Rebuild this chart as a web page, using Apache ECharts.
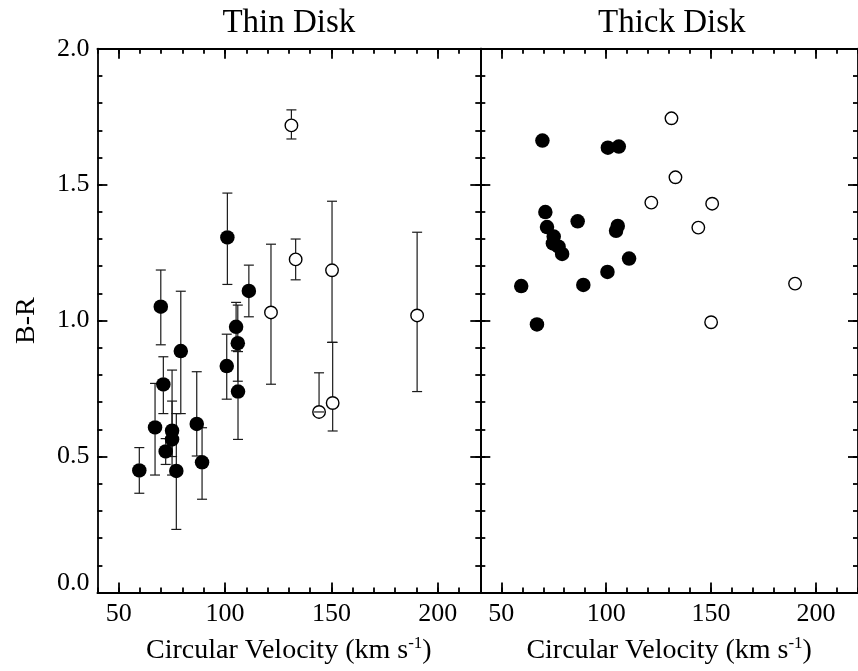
<!DOCTYPE html>
<html>
<head>
<meta charset="utf-8">
<script src="https://cdn.jsdelivr.net/npm/echarts@6/dist/echarts.min.js"></script>
<style>
html,body{margin:0;padding:0;background:#fff;}
#chart{width:858px;height:671px;}
</style>
</head>
<body>
<div id="chart"></div>
<script>
// ---------- data ----------
const panelTitles = ['Thin Disk', 'Thick Disk'];
const xTickLabels = [50, 100, 150, 200];
const yTickLabels = [0.0, 0.5, 1.0, 1.5, 2.0];

// Thin disk, filled points with error bars
const thinFilledV  = [59.7, 67.1, 69.8, 71.0, 72.1, 75.1, 75.1, 77.1, 79.2, 86.7, 89.2, 100.8, 101.1, 105.2, 106.0, 106.1, 111.2];
const thinFilledBR = [0.449, 0.607, 1.051, 0.765, 0.519, 0.595, 0.563, 0.447, 0.888, 0.620, 0.479, 0.833, 1.306, 0.977, 0.917, 0.739, 1.109];
const thinFilledLo = [0.365, 0.432, 0.911, 0.658, 0.471, 0.432, 0.500, 0.232, 0.658, 0.502, 0.343, 0.711, 1.133, 0.889, 0.777, 0.563, 1.014];
const thinFilledHi = [0.533, 0.769, 1.186, 0.867, 0.566, 0.818, 0.704, 0.658, 1.108, 0.812, 0.606, 0.950, 1.469, 1.067, 1.057, 0.886, 1.204];

// Thin disk, open points with error bars
const thinOpenV  = [121.6, 131.2, 133.2, 144.2, 150.3, 150.6, 190.3];
const thinOpenBR = [1.030, 1.718, 1.225, 0.664, 1.185, 0.697, 1.019];
const thinOpenLo = [0.766, 1.668, 1.150, 0.664, 0.920, 0.594, 0.739];
const thinOpenHi = [1.281, 1.775, 1.300, 0.808, 1.439, 0.920, 1.325];

// Thick disk, filled points
const thickFilledV  = [69.6, 100.8, 106.0, 71.0, 86.4, 71.8, 75.0, 74.6, 77.3, 79.0, 105.5, 104.7, 110.9, 100.6, 59.5, 89.1, 67.0];
const thickFilledBR = [1.662, 1.636, 1.640, 1.399, 1.365, 1.344, 1.309, 1.284, 1.272, 1.245, 1.348, 1.330, 1.228, 1.179, 1.127, 1.131, 0.986];

// Thick disk, open points
const thickOpenV  = [131.1, 133.0, 121.5, 150.5, 143.9, 190.0, 150.0];
const thickOpenBR = [1.744, 1.527, 1.434, 1.430, 1.342, 1.136, 0.994];

// ---------- layout ----------
const FONT = '"Liberation Serif","Times New Roman",serif';
const XMIN = 40, XMAX = 220, YMIN = 0, YMAX = 2;
const GTOP = 48.7, GH = 543.8, GW = 382.9;
const gridLefts = [97.4, 480.3];
const LW = 1.8;

const grids = gridLefts.map(l => ({left: l, top: GTOP, width: GW, height: GH}));

const xAxes = [], yAxes = [];
gridLefts.forEach((l, g) => {
  ['bottom', 'top'].forEach(pos => {
    xAxes.push({
      gridIndex: g, type: 'value', position: pos, min: XMIN, max: XMAX, interval: 10,
      axisLine: {show: true, onZero: false, lineStyle: {color: '#000', width: LW}},
      axisTick: {show: true, inside: true, length: 5, lineStyle: {color: '#000', width: LW}},
      axisLabel: {show: false}, splitLine: {show: false}
    });
    const major = {
      gridIndex: g, type: 'value', position: pos, min: XMIN, max: XMAX,
      axisLine: {show: false, onZero: false},
      axisTick: {show: true, inside: true, length: 10, customValues: xTickLabels, lineStyle: {color: '#000', width: LW}},
      axisLabel: {show: pos === 'bottom', customValues: xTickLabels, margin: 9,
                  fontFamily: FONT, fontSize: 26, color: '#000'},
      splitLine: {show: false}
    };
    if (pos === 'bottom') {
      major.name = '{n|Circular Velocity (km s}{s|-1}{n|)}';
      major.nameLocation = 'middle';
      major.nameGap = 43;
      major.nameTextStyle = {rich: {
        n: {fontFamily: FONT, fontSize: 28, color: '#000'},
        s: {fontFamily: FONT, fontSize: 17, color: '#000', verticalAlign: 'top', padding: [0, 0, 14, 0]}
      }};
    }
    xAxes.push(major);
  });
  ['left', 'right'].forEach(pos => {
    yAxes.push({
      gridIndex: g, type: 'value', position: pos, min: YMIN, max: YMAX, interval: 0.1,
      axisLine: {show: true, onZero: false, lineStyle: {color: '#000', width: LW}},
      axisTick: {show: true, inside: true, length: 5, lineStyle: {color: '#000', width: LW}},
      axisLabel: {show: false}, splitLine: {show: false}
    });
    const major = {
      gridIndex: g, type: 'value', position: pos, min: YMIN, max: YMAX, interval: 0.5,
      axisLine: {show: false, onZero: false},
      axisTick: {show: true, inside: true, length: 10, lineStyle: {color: '#000', width: LW}},
      axisLabel: {show: g === 0 && pos === 'left', margin: 8,
                  fontFamily: FONT, fontSize: 26, color: '#000',
                  formatter: v => v === 0 ? '{lo|0.0}' : v.toFixed(1),
                  rich: {lo: {fontFamily: FONT, fontSize: 26, color: '#000', padding: [0, 0, 18, 0]}}},
      splitLine: {show: false}
    };
    if (g === 0 && pos === 'left') {
      major.name = 'B-R';
      major.nameLocation = 'middle';
      major.nameGap = 57;
      major.nameTextStyle = {fontFamily: FONT, fontSize: 28, color: '#000'};
    }
    yAxes.push(major);
  });
});
// axis indices: grid g -> x bottom-minor 4g, y left-minor 4g

function errRender(radius) {
  return function (params, api) {
    const c = api.coord([api.value(0), api.value(1)]);
    const lo = api.coord([api.value(0), api.value(2)]);
    const hi = api.coord([api.value(0), api.value(3)]);
    const cx = c[0], cy = c[1], cw = 5;
    const st = {stroke: '#1a1a1a', lineWidth: 1.2};
    const ch = [];
    const seg = (x1, y1, x2, y2) => ch.push({type: 'line', shape: {x1, y1, x2, y2}, style: st});
    if (radius > 0) {
      if (hi[1] < cy - radius) seg(cx, hi[1], cx, cy - radius);
      if (lo[1] > cy + radius) seg(cx, cy + radius, cx, lo[1]);
    } else {
      seg(cx, hi[1], cx, lo[1]);
    }
    seg(cx - cw, hi[1], cx + cw, hi[1]);
    seg(cx - cw, lo[1], cx + cw, lo[1]);
    return {type: 'group', children: ch};
  };
}

const zip2 = (a, b) => a.map((v, i) => [v, b[i]]);
const zip4 = (a, b, c, d) => a.map((v, i) => [v, b[i], c[i], d[i]]);

const filledStyle = {color: '#000', opacity: 1};
const openStyle = {color: 'rgba(0,0,0,0)', borderColor: '#000', borderWidth: 1.4, opacity: 1};

const series = [
  {type: 'custom', xAxisIndex: 0, yAxisIndex: 0, renderItem: errRender(7),
   data: zip4(thinFilledV, thinFilledBR, thinFilledLo, thinFilledHi), z: 1, silent: true},
  {type: 'custom', xAxisIndex: 0, yAxisIndex: 0, renderItem: errRender(6.5),
   data: zip4(thinOpenV, thinOpenBR, thinOpenLo, thinOpenHi), z: 1, silent: true},
  {type: 'scatter', xAxisIndex: 0, yAxisIndex: 0, symbol: 'circle', symbolSize: 14.5,
   data: zip2(thinFilledV, thinFilledBR), itemStyle: filledStyle, z: 3, silent: true},
  {type: 'scatter', xAxisIndex: 0, yAxisIndex: 0, symbol: 'circle', symbolSize: 12.5,
   data: zip2(thinOpenV, thinOpenBR), itemStyle: openStyle, z: 3, silent: true},
  {type: 'scatter', xAxisIndex: 4, yAxisIndex: 4, symbol: 'circle', symbolSize: 14.5,
   data: zip2(thickFilledV, thickFilledBR), itemStyle: filledStyle, z: 3, silent: true},
  {type: 'scatter', xAxisIndex: 4, yAxisIndex: 4, symbol: 'circle', symbolSize: 12.5,
   data: zip2(thickOpenV, thickOpenBR), itemStyle: openStyle, z: 3, silent: true}
];

const chart = echarts.init(document.getElementById('chart'), null, {renderer: 'canvas'});
chart.setOption({
  animation: false,
  backgroundColor: '#fff',
  grid: grids,
  xAxis: xAxes,
  yAxis: yAxes,
  graphic: panelTitles.map((t, i) => ({
    type: 'text', x: gridLefts[i] + GW / 2, y: 23,
    style: {text: t, fontFamily: FONT, fontSize: 33, fill: '#000', align: 'center', verticalAlign: 'middle'}
  })),
  series: series
});
</script>
</body>
</html>
